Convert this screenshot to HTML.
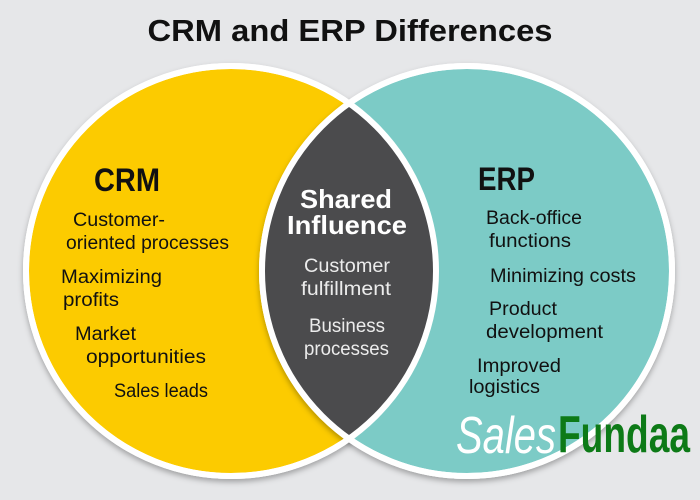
<!DOCTYPE html>
<html><head><meta charset="utf-8"><style>
html,body{margin:0;padding:0;background:#e6e7e9;}
svg{display:block;}
text{font-family:"Liberation Sans",sans-serif;}
</style></head><body>
<svg width="700" height="500" viewBox="0 0 700 500" xmlns="http://www.w3.org/2000/svg">
<defs>
<clipPath id="cl"><circle cx="231" cy="271" r="205"/></clipPath>
<filter id="sh" x="-10%" y="-10%" width="120%" height="120%"><feDropShadow dx="0" dy="3" stdDeviation="3" flood-color="#000" flood-opacity="0.3"/></filter>
</defs>
<rect width="700" height="500" fill="#e6e7e9"/>
<text x="350" y="41" text-anchor="middle" font-size="31" font-weight="bold" fill="#111" textLength="405" lengthAdjust="spacingAndGlyphs">CRM and ERP Differences</text>
<circle cx="231" cy="271" r="205" fill="#fccb00" stroke="#fff" stroke-width="6" filter="url(#sh)"/>
<circle cx="467" cy="271" r="205" fill="#7ccbc6" stroke="#fff" stroke-width="6" filter="url(#sh)"/>
<circle cx="467" cy="271" r="205" fill="#4b4b4d" clip-path="url(#cl)"/>
<circle cx="231" cy="271" r="205" fill="none" stroke="#fff" stroke-width="6"/>
<circle cx="467" cy="271" r="205" fill="none" stroke="#fff" stroke-width="6"/>
<g fill="#111" font-size="19">
<text x="94" y="191" font-size="32" font-weight="bold" textLength="66" lengthAdjust="spacingAndGlyphs">CRM</text>
<text x="73" y="226" textLength="92" lengthAdjust="spacingAndGlyphs">Customer-</text>
<text x="66" y="249" textLength="163" lengthAdjust="spacingAndGlyphs">oriented processes</text>
<text x="61" y="283" textLength="101" lengthAdjust="spacingAndGlyphs">Maximizing</text>
<text x="63" y="306" textLength="56" lengthAdjust="spacingAndGlyphs">profits</text>
<text x="75" y="340" textLength="61" lengthAdjust="spacingAndGlyphs">Market</text>
<text x="86" y="363" textLength="120" lengthAdjust="spacingAndGlyphs">opportunities</text>
<text x="114" y="397" textLength="94" lengthAdjust="spacingAndGlyphs">Sales leads</text>
<text x="478" y="190" font-size="32" font-weight="bold" textLength="57" lengthAdjust="spacingAndGlyphs">ERP</text>
<text x="486" y="224" textLength="96" lengthAdjust="spacingAndGlyphs">Back-office</text>
<text x="489" y="247" textLength="82" lengthAdjust="spacingAndGlyphs">functions</text>
<text x="490" y="282" textLength="146" lengthAdjust="spacingAndGlyphs">Minimizing costs</text>
<text x="489" y="315" textLength="68" lengthAdjust="spacingAndGlyphs">Product</text>
<text x="486" y="338" textLength="117" lengthAdjust="spacingAndGlyphs">development</text>
<text x="477" y="372" textLength="84" lengthAdjust="spacingAndGlyphs">Improved</text>
<text x="469" y="393" textLength="71" lengthAdjust="spacingAndGlyphs">logistics</text>
</g>
<g fill="#fff" font-size="19">
<text x="300" y="208" font-size="26" font-weight="bold" textLength="92" lengthAdjust="spacingAndGlyphs">Shared</text>
<text x="287" y="234" font-size="26" font-weight="bold" textLength="120" lengthAdjust="spacingAndGlyphs">Influence</text>
<text x="304" y="272" fill="#ececec" textLength="86" lengthAdjust="spacingAndGlyphs">Customer</text>
<text x="301" y="295" fill="#ececec" textLength="90" lengthAdjust="spacingAndGlyphs">fulfillment</text>
<text x="309" y="332" fill="#ececec" textLength="76" lengthAdjust="spacingAndGlyphs">Business</text>
<text x="304" y="355" fill="#ececec" textLength="85" lengthAdjust="spacingAndGlyphs">processes</text>
</g>
<text x="456" y="453" font-size="52" font-style="italic" fill="#fff" textLength="100" lengthAdjust="spacingAndGlyphs">Sales</text>
<text x="558" y="452" font-size="52" font-weight="bold" fill="#0d7a17" textLength="132" lengthAdjust="spacingAndGlyphs">Fundaa</text>
</svg>
</body></html>
